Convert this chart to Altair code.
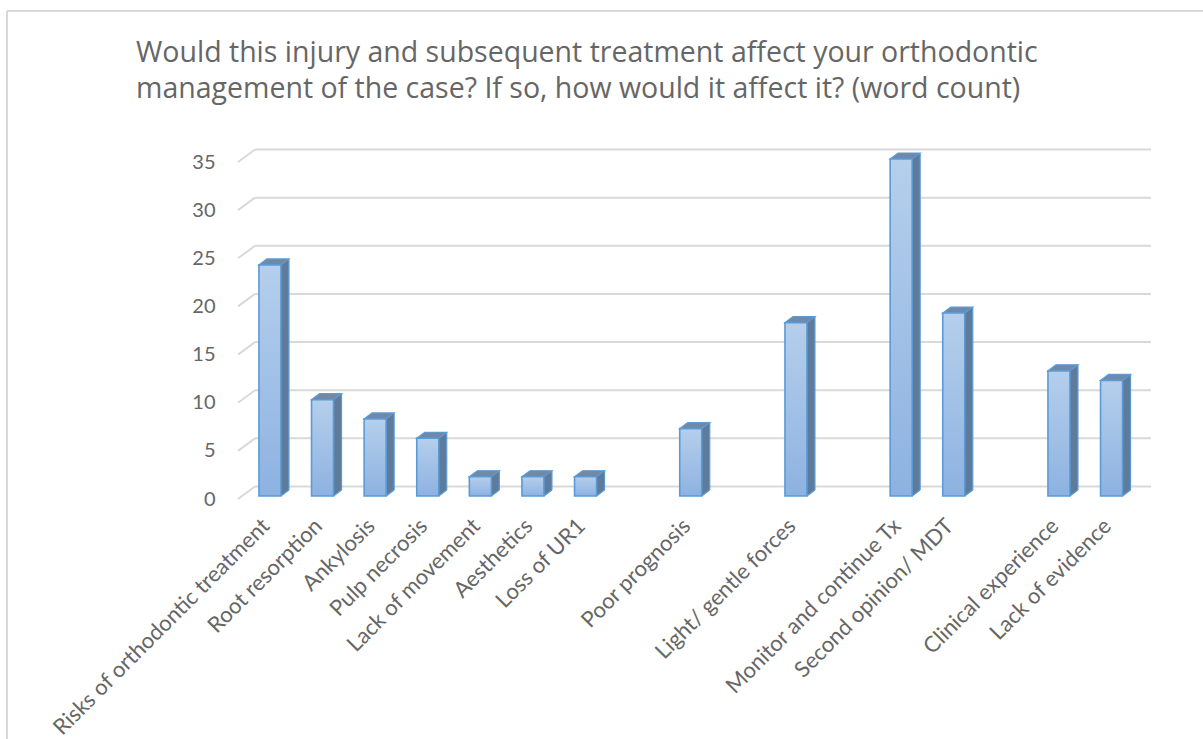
import altair as alt
import pandas as pd

# Category slots along the x axis (gap slots separate the answer groups)
slots = [
    "Risks of orthodontic treatment", "Root resorption", "Ankylosis",
    "Pulp necrosis", "Lack of movement", "Aesthetics", "Loss of UR1",
    "gap1", "Poor prognosis", "gap2", "Light/ gentle forces", "gap3",
    "Monitor and continue Tx", "Second opinion/ MDT", "gap4",
    "Clinical experience", "Lack of evidence",
]
# Word counts per answer
answers = [
    "Risks of orthodontic treatment", "Root resorption", "Ankylosis",
    "Pulp necrosis", "Lack of movement", "Aesthetics", "Loss of UR1",
    "Poor prognosis", "Light/ gentle forces", "Monitor and continue Tx",
    "Second opinion/ MDT", "Clinical experience", "Lack of evidence",
]
counts = [24, 10, 8, 6, 2, 2, 2, 7, 18, 35, 19, 13, 12]
y_ticks = [0, 5, 10, 15, 20, 25, 30, 35]

title_lines = [
    "Would this injury and subsequent treatment affect your orthodontic",
    "management of the case? If so, how would it affect it? (word count)",
]

bars = pd.DataFrame({"answer": answers, "count": counts})
ticks = pd.DataFrame({"tick": y_ticks})
one = pd.DataFrame({"k": [0]})
title_df = pd.DataFrame({"line": title_lines, "row": [0, 1]})

LEFT, TOP = 238, 162
W, H = 913, 337
FONT = "Lato"
TEXT = "#666666"
GRID = "#d9d9d9"
EDGE = "#5b9bd5"
SIDE = "#5f7b9b"
CAP = "#7089a8"
BAR_W = 22
DX, DY = 8, 6        # bar depth
WALL_DX, WALL_DY = 17, 12.5  # back wall depth

yscale = alt.Scale(domain=[0, 35], nice=False, zero=True)
xscale = alt.Scale(domain=slots, paddingInner=0, paddingOuter=0.1785, align=0.3)

x_enc = alt.X(
    "answer:N", scale=xscale, sort=slots, title=None,
    axis=alt.Axis(
        labelAngle=-45, labelFontSize=22, labelFont=FONT, labelColor=TEXT,
        domain=False, ticks=False, labelPadding=16, labelOffset=-11, labelLimit=400,
        labelExpr="indexof(datum.label, 'gap') == 0 ? '' : datum.label",
    ),
)
y_axis = alt.Axis(
    values=y_ticks, labelFontSize=20, labelFont=FONT, labelColor=TEXT,
    domain=False, ticks=False, grid=False, labelPadding=23,
)

# back wall gridlines and the slanted floor-to-wall segments
grid = alt.Chart(ticks).mark_rule(color=GRID, strokeWidth=2, yOffset=-WALL_DY).encode(
    x=alt.value(WALL_DX), x2=alt.value(W),
    y=alt.Y("tick:Q", scale=yscale, axis=y_axis, title=None),
)
slant = alt.Chart(ticks).mark_rule(color=GRID, strokeWidth=2, y2Offset=-WALL_DY).encode(
    x=alt.value(0), x2=alt.value(WALL_DX),
    y=alt.Y("tick:Q", scale=yscale, title=None), y2="tick:Q",
)

base = alt.Chart(bars).encode(x=x_enc)

# side face (back rectangle shifted by the depth)
back = base.mark_bar(
    size=BAR_W, color=SIDE, xOffset=DX, yOffset=-3 - DY, y2Offset=-3 - DY
).encode(y=alt.Y("count:Q", scale=yscale, title=None), y2=alt.datum(0))

# lower corner of the side face
corner = base.mark_point(
    shape="M -1 0.75 L -1 -0.75 L 1 -0.75 Z", size=64, filled=True, opacity=1,
    color=SIDE, strokeWidth=0, xOffset=BAR_W / 2 + 4, yOffset=-6,
).encode(y=alt.datum(0))

side_edge = base.mark_rule(
    color=EDGE, strokeWidth=1.2, xOffset=BAR_W / 2 + DX, x2Offset=BAR_W / 2 + DX,
    yOffset=-3 - DY, y2Offset=-3 - DY,
).encode(x2="answer:N", y=alt.Y("count:Q", scale=yscale, title=None), y2=alt.datum(0))

bottom_edge = base.mark_rule(
    color=EDGE, strokeWidth=1.2, xOffset=BAR_W / 2, x2Offset=BAR_W / 2 + DX,
    yOffset=-3, y2Offset=-3 - DY,
).encode(x2="answer:N", y=alt.datum(0), y2=alt.datum(0))

# top face (parallelogram)
cap = base.mark_point(
    shape="M -1 -0.6 L 0.4667 -0.6 L 1 -1 L -0.4667 -1 Z", size=900, filled=True,
    opacity=1, fill=CAP, stroke=EDGE, strokeWidth=1.2, xOffset=4, yOffset=6,
).encode(y=alt.Y("count:Q", scale=yscale, title=None))

# front face with vertical gradient
front = base.mark_bar(
    size=BAR_W, yOffset=-3, y2Offset=-3, stroke=EDGE, strokeWidth=1.6,
    color=alt.Gradient(
        gradient="linear", x1=0, x2=0, y1=0, y2=1,
        stops=[alt.GradientStop(color="#b5cfec", offset=0),
               alt.GradientStop(color="#8db2e1", offset=1)],
    ),
).encode(y=alt.Y("count:Q", scale=yscale, title=None), y2=alt.datum(0))

# chart frame lines
frame_top = alt.Chart(one).mark_rule(color=GRID, strokeWidth=2).encode(
    x=alt.value(7 - LEFT), x2=alt.value(1203 - LEFT), y=alt.value(11 - TOP)
)
frame_left = alt.Chart(one).mark_rule(color=GRID, strokeWidth=2).encode(
    x=alt.value(7 - LEFT), y=alt.value(11 - TOP), y2=alt.value(739 - TOP)
)

# two-line chart title
title_style = dict(align="left", baseline="alphabetic", font="Open Sans",
                   fontSize=28.5, color=TEXT)
title_l1 = alt.Chart(title_df[title_df.row == 0]).mark_text(**title_style).encode(
    text="line:N", x=alt.value(136 - LEFT), y=alt.value(62 - TOP))
title_l2 = alt.Chart(title_df[title_df.row == 1]).mark_text(**title_style).encode(
    text="line:N", x=alt.value(136 - LEFT), y=alt.value(98 - TOP))

chart = alt.layer(
    frame_top, frame_left, title_l1, title_l2, grid, slant,
    back, corner, side_edge, bottom_edge, cap, front,
).properties(
    width=W, height=H, background="white",
    autosize=alt.AutoSizeParams(type="none"),
    padding={"left": LEFT, "top": TOP, "right": 1203 - LEFT - W, "bottom": 739 - TOP - H},
).configure_view(strokeWidth=0)

chart.save("out.html", embed_options={"renderer": "svg", "actions": False})
